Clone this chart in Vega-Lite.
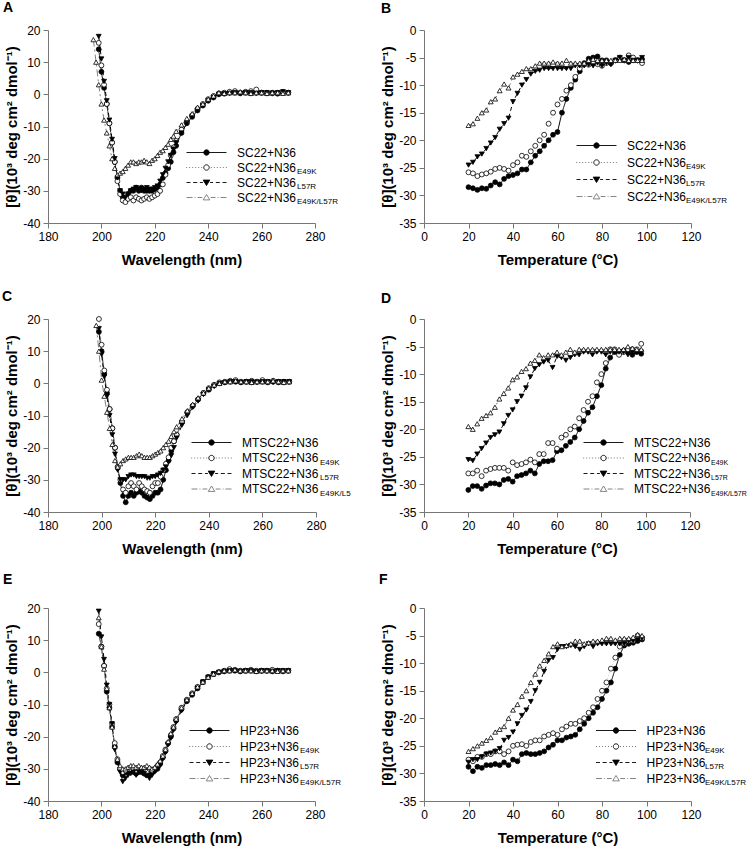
{
"$schema":"https://vega.github.io/schema/vega-lite/v6.json",
"padding":{"left":2,"top":1,"right":5,"bottom":5},
"background":"white",
"config":{"font":"Liberation Sans","view":{"stroke":null},
"axis":{"grid":false,"domainColor":"#777","tickColor":"#777","tickSize":5,"labelFontSize":12,"labelColor":"#000","labelPadding":3,"labelFlush":false,"labelOverlap":false,"labelSeparation":0,"titleFontSize":15,"titleFontWeight":"bold","titleColor":"#000","labelExpr":"''+datum.value"},
"axisY":{"titlePadding":3,"labelOverlap":false},"axisX":{"titlePadding":10},
"title":{"fontSize":14,"fontWeight":"bold","anchor":"start","frame":"group","baseline":"alphabetic","color":"#000"},
"legend":{"labelColor":"#000"}},
"bounds":"flush",
"columns":2,
"spacing":{"row":96,"column":108},
"resolve":{"scale":{"color":"independent","shape":"independent","fill":"independent","stroke":"independent","strokeDash":"independent"},"legend":{"color":"independent","shape":"independent","fill":"independent","stroke":"independent","strokeDash":"independent"}},
"datasets":{
"leg":[{"k":"a"},{"k":"b"},{"k":"c"},{"k":"d"}],
"subs":[{"sub":" "},{"sub":"E49K"},{"sub":"L57R"},{"sub":"E49K/L57R"}],
"subsC":[{"sub":" "},{"sub":"E49K"},{"sub":"L57R"},{"sub":"E49K/L5"}],
"A":[
{"s":"a","x":199,"y":14},{"s":"a","x":200,"y":7},{"s":"a","x":201,"y":2},{"s":"a","x":202,"y":-3},{"s":"a","x":203,"y":-9},{"s":"a","x":204,"y":-15},{"s":"a","x":205,"y":-21},{"s":"a","x":206,"y":-26},{"s":"a","x":207,"y":-30},{"s":"a","x":208,"y":-32},{"s":"a","x":209,"y":-33},{"s":"a","x":210,"y":-31},{"s":"a","x":211,"y":-30},{"s":"a","x":212,"y":-30},{"s":"a","x":213,"y":-29},{"s":"a","x":214,"y":-30},{"s":"a","x":215,"y":-29},{"s":"a","x":216,"y":-30},{"s":"a","x":217,"y":-30},{"s":"a","x":218,"y":-30},{"s":"a","x":219,"y":-30},{"s":"a","x":220,"y":-29.5},{"s":"a","x":221,"y":-29},{"s":"a","x":222,"y":-28},{"s":"a","x":223,"y":-26},{"s":"a","x":224,"y":-24.5},{"s":"a","x":225,"y":-23},{"s":"a","x":226,"y":-21},{"s":"a","x":227,"y":-18},{"s":"a","x":228,"y":-16},{"s":"a","x":230,"y":-12},{"s":"a","x":232,"y":-9},{"s":"a","x":234,"y":-7},{"s":"a","x":236,"y":-5},{"s":"a","x":238,"y":-3.5},{"s":"a","x":240,"y":-2},{"s":"a","x":242,"y":-1},{"s":"a","x":244,"y":0},{"s":"a","x":246,"y":0.2},{"s":"a","x":248,"y":0.5},{"s":"a","x":250,"y":0.5},{"s":"a","x":252,"y":0.3},{"s":"a","x":254,"y":0.5},{"s":"a","x":256,"y":0.3},{"s":"a","x":258,"y":0.5},{"s":"a","x":260,"y":0.5},{"s":"a","x":262,"y":0.3},{"s":"a","x":264,"y":0.5},{"s":"a","x":266,"y":0.2},{"s":"a","x":268,"y":0.5},{"s":"a","x":270,"y":0.5},
{"s":"b","x":199,"y":16},{"s":"b","x":200,"y":9},{"s":"b","x":201,"y":3},{"s":"b","x":202,"y":-3},{"s":"b","x":203,"y":-9},{"s":"b","x":204,"y":-15},{"s":"b","x":205,"y":-21},{"s":"b","x":206,"y":-27},{"s":"b","x":207,"y":-31},{"s":"b","x":208,"y":-33},{"s":"b","x":209,"y":-33.5},{"s":"b","x":210,"y":-32.5},{"s":"b","x":211,"y":-32},{"s":"b","x":212,"y":-33},{"s":"b","x":213,"y":-32},{"s":"b","x":214,"y":-32.5},{"s":"b","x":215,"y":-33},{"s":"b","x":216,"y":-32.5},{"s":"b","x":217,"y":-32},{"s":"b","x":218,"y":-32.5},{"s":"b","x":219,"y":-32},{"s":"b","x":220,"y":-31.5},{"s":"b","x":221,"y":-31},{"s":"b","x":222,"y":-30},{"s":"b","x":223,"y":-28},{"s":"b","x":224,"y":-25},{"s":"b","x":225,"y":-22},{"s":"b","x":226,"y":-19},{"s":"b","x":227,"y":-16.5},{"s":"b","x":228,"y":-14.5},{"s":"b","x":230,"y":-11},{"s":"b","x":232,"y":-8.5},{"s":"b","x":234,"y":-6.5},{"s":"b","x":236,"y":-4.5},{"s":"b","x":238,"y":-3},{"s":"b","x":240,"y":-1.5},{"s":"b","x":242,"y":-0.5},{"s":"b","x":244,"y":0.3},{"s":"b","x":246,"y":0.5},{"s":"b","x":248,"y":0.8},{"s":"b","x":250,"y":1},{"s":"b","x":252,"y":0.5},{"s":"b","x":254,"y":0.8},{"s":"b","x":256,"y":1},{"s":"b","x":258,"y":1.5},{"s":"b","x":260,"y":0.5},{"s":"b","x":262,"y":0.5},{"s":"b","x":264,"y":0.3},{"s":"b","x":266,"y":0.5},{"s":"b","x":268,"y":0.8},{"s":"b","x":270,"y":0.5},
{"s":"c","x":199,"y":18},{"s":"c","x":200,"y":11},{"s":"c","x":201,"y":4},{"s":"c","x":202,"y":-2},{"s":"c","x":203,"y":-8},{"s":"c","x":204,"y":-14},{"s":"c","x":205,"y":-20},{"s":"c","x":206,"y":-26},{"s":"c","x":207,"y":-30},{"s":"c","x":208,"y":-31},{"s":"c","x":209,"y":-32},{"s":"c","x":210,"y":-31},{"s":"c","x":211,"y":-30},{"s":"c","x":212,"y":-29.5},{"s":"c","x":213,"y":-29},{"s":"c","x":214,"y":-29.5},{"s":"c","x":215,"y":-30},{"s":"c","x":216,"y":-29.5},{"s":"c","x":217,"y":-29},{"s":"c","x":218,"y":-29.5},{"s":"c","x":219,"y":-29.5},{"s":"c","x":220,"y":-29},{"s":"c","x":221,"y":-28.5},{"s":"c","x":222,"y":-27},{"s":"c","x":223,"y":-25},{"s":"c","x":224,"y":-23},{"s":"c","x":225,"y":-21},{"s":"c","x":226,"y":-19},{"s":"c","x":227,"y":-17},{"s":"c","x":228,"y":-15},{"s":"c","x":230,"y":-12},{"s":"c","x":232,"y":-9},{"s":"c","x":234,"y":-7},{"s":"c","x":236,"y":-5},{"s":"c","x":238,"y":-3.5},{"s":"c","x":240,"y":-2},{"s":"c","x":242,"y":-1},{"s":"c","x":244,"y":0},{"s":"c","x":246,"y":0.2},{"s":"c","x":248,"y":0.3},{"s":"c","x":250,"y":0.5},{"s":"c","x":252,"y":0.3},{"s":"c","x":254,"y":0.5},{"s":"c","x":256,"y":0.5},{"s":"c","x":258,"y":0.3},{"s":"c","x":260,"y":0.5},{"s":"c","x":262,"y":0.5},{"s":"c","x":264,"y":0.3},{"s":"c","x":266,"y":0.5},{"s":"c","x":268,"y":0.8},{"s":"c","x":270,"y":0.5},
{"s":"d","x":197,"y":17},{"s":"d","x":198,"y":10},{"s":"d","x":199,"y":3},{"s":"d","x":200,"y":-3},{"s":"d","x":201,"y":-8},{"s":"d","x":202,"y":-12},{"s":"d","x":203,"y":-16},{"s":"d","x":204,"y":-20},{"s":"d","x":205,"y":-23},{"s":"d","x":206,"y":-25},{"s":"d","x":207,"y":-24.5},{"s":"d","x":208,"y":-24},{"s":"d","x":209,"y":-23},{"s":"d","x":210,"y":-22},{"s":"d","x":211,"y":-21},{"s":"d","x":212,"y":-21},{"s":"d","x":213,"y":-21.5},{"s":"d","x":214,"y":-21},{"s":"d","x":215,"y":-21},{"s":"d","x":216,"y":-20.5},{"s":"d","x":217,"y":-21},{"s":"d","x":218,"y":-21.5},{"s":"d","x":219,"y":-20.5},{"s":"d","x":220,"y":-20},{"s":"d","x":221,"y":-19},{"s":"d","x":222,"y":-18},{"s":"d","x":223,"y":-17.5},{"s":"d","x":224,"y":-16.5},{"s":"d","x":225,"y":-15.5},{"s":"d","x":226,"y":-14},{"s":"d","x":227,"y":-13},{"s":"d","x":228,"y":-11.5},{"s":"d","x":230,"y":-9.5},{"s":"d","x":232,"y":-7.5},{"s":"d","x":234,"y":-6},{"s":"d","x":236,"y":-4},{"s":"d","x":238,"y":-3},{"s":"d","x":240,"y":-1.5},{"s":"d","x":242,"y":-0.5},{"s":"d","x":244,"y":0.5},{"s":"d","x":246,"y":0.3},{"s":"d","x":248,"y":0.5},{"s":"d","x":250,"y":0.5},{"s":"d","x":252,"y":0.8},{"s":"d","x":254,"y":0.5},{"s":"d","x":256,"y":0.3},{"s":"d","x":258,"y":0.5},{"s":"d","x":260,"y":0.5},{"s":"d","x":262,"y":0.3},{"s":"d","x":264,"y":0.5},{"s":"d","x":266,"y":0.5},{"s":"d","x":268,"y":0.3},{"s":"d","x":270,"y":0.5}
],
"B":[
{"s":"a","x":20,"y":-28.5},{"s":"a","x":22,"y":-28.7},{"s":"a","x":24,"y":-29},{"s":"a","x":26,"y":-28.7},{"s":"a","x":28,"y":-28.8},{"s":"a","x":30,"y":-28.2},{"s":"a","x":32,"y":-27.6},{"s":"a","x":34,"y":-28},{"s":"a","x":36,"y":-27},{"s":"a","x":38,"y":-26.5},{"s":"a","x":40,"y":-26.3},{"s":"a","x":42,"y":-26},{"s":"a","x":44,"y":-25.3},{"s":"a","x":46,"y":-25.3},{"s":"a","x":48,"y":-24},{"s":"a","x":50,"y":-22.8},{"s":"a","x":52,"y":-22},{"s":"a","x":54,"y":-21},{"s":"a","x":56,"y":-20},{"s":"a","x":58,"y":-19},{"s":"a","x":60,"y":-18.5},{"s":"a","x":62,"y":-15},{"s":"a","x":64,"y":-12.5},{"s":"a","x":66,"y":-10.5},{"s":"a","x":68,"y":-9},{"s":"a","x":70,"y":-7.5},{"s":"a","x":72,"y":-6},{"s":"a","x":74,"y":-5.2},{"s":"a","x":76,"y":-5},{"s":"a","x":78,"y":-4.8},{"s":"a","x":80,"y":-5.5},{"s":"a","x":82,"y":-5.5},{"s":"a","x":84,"y":-6},{"s":"a","x":86,"y":-5.5},{"s":"a","x":88,"y":-5.3},{"s":"a","x":90,"y":-5.5},{"s":"a","x":92,"y":-5.8},{"s":"a","x":94,"y":-5.5},{"s":"a","x":96,"y":-5.5},{"s":"a","x":98,"y":-5.3},
{"s":"b","x":20,"y":-25.8},{"s":"b","x":22,"y":-26},{"s":"b","x":24,"y":-26.5},{"s":"b","x":26,"y":-26.2},{"s":"b","x":28,"y":-26},{"s":"b","x":30,"y":-25.7},{"s":"b","x":32,"y":-25.2},{"s":"b","x":34,"y":-25},{"s":"b","x":36,"y":-25.2},{"s":"b","x":38,"y":-25.5},{"s":"b","x":40,"y":-24.5},{"s":"b","x":42,"y":-24},{"s":"b","x":44,"y":-22.8},{"s":"b","x":46,"y":-23},{"s":"b","x":48,"y":-22},{"s":"b","x":50,"y":-21},{"s":"b","x":52,"y":-20},{"s":"b","x":54,"y":-19},{"s":"b","x":56,"y":-17},{"s":"b","x":58,"y":-15},{"s":"b","x":60,"y":-13.5},{"s":"b","x":62,"y":-12.5},{"s":"b","x":64,"y":-11},{"s":"b","x":66,"y":-10},{"s":"b","x":68,"y":-8.5},{"s":"b","x":70,"y":-7},{"s":"b","x":72,"y":-6.2},{"s":"b","x":74,"y":-6.3},{"s":"b","x":76,"y":-6},{"s":"b","x":78,"y":-6.2},{"s":"b","x":80,"y":-6.5},{"s":"b","x":82,"y":-6},{"s":"b","x":84,"y":-6},{"s":"b","x":86,"y":-5.5},{"s":"b","x":88,"y":-5},{"s":"b","x":90,"y":-5.5},{"s":"b","x":92,"y":-4.6},{"s":"b","x":94,"y":-5},{"s":"b","x":96,"y":-5.5},{"s":"b","x":98,"y":-6},
{"s":"c","x":20,"y":-24.5},{"s":"c","x":22,"y":-24},{"s":"c","x":24,"y":-23},{"s":"c","x":26,"y":-22.5},{"s":"c","x":28,"y":-21.5},{"s":"c","x":30,"y":-20.5},{"s":"c","x":32,"y":-19.5},{"s":"c","x":34,"y":-18},{"s":"c","x":36,"y":-17},{"s":"c","x":38,"y":-16},{"s":"c","x":40,"y":-13},{"s":"c","x":42,"y":-11.5},{"s":"c","x":44,"y":-10},{"s":"c","x":46,"y":-9},{"s":"c","x":48,"y":-8},{"s":"c","x":50,"y":-7.5},{"s":"c","x":52,"y":-7.3},{"s":"c","x":54,"y":-7},{"s":"c","x":56,"y":-7},{"s":"c","x":58,"y":-7},{"s":"c","x":60,"y":-7},{"s":"c","x":62,"y":-7},{"s":"c","x":64,"y":-7},{"s":"c","x":66,"y":-7},{"s":"c","x":68,"y":-6.5},{"s":"c","x":70,"y":-6.5},{"s":"c","x":72,"y":-6.5},{"s":"c","x":74,"y":-6.3},{"s":"c","x":76,"y":-6.5},{"s":"c","x":78,"y":-6},{"s":"c","x":80,"y":-6.5},{"s":"c","x":82,"y":-6},{"s":"c","x":84,"y":-6.3},{"s":"c","x":86,"y":-5.5},{"s":"c","x":88,"y":-5},{"s":"c","x":90,"y":-5.5},{"s":"c","x":92,"y":-5},{"s":"c","x":94,"y":-5.5},{"s":"c","x":96,"y":-5.5},{"s":"c","x":98,"y":-5},
{"s":"d","x":20,"y":-17.3},{"s":"d","x":22,"y":-17},{"s":"d","x":24,"y":-16},{"s":"d","x":26,"y":-15},{"s":"d","x":28,"y":-14.5},{"s":"d","x":30,"y":-13},{"s":"d","x":32,"y":-12.5},{"s":"d","x":34,"y":-11},{"s":"d","x":36,"y":-9.8},{"s":"d","x":38,"y":-10.5},{"s":"d","x":40,"y":-8.5},{"s":"d","x":42,"y":-8},{"s":"d","x":44,"y":-7.5},{"s":"d","x":46,"y":-7},{"s":"d","x":48,"y":-7},{"s":"d","x":50,"y":-6.5},{"s":"d","x":52,"y":-6},{"s":"d","x":54,"y":-6},{"s":"d","x":56,"y":-6},{"s":"d","x":58,"y":-5.8},{"s":"d","x":60,"y":-6},{"s":"d","x":62,"y":-6},{"s":"d","x":64,"y":-5.5},{"s":"d","x":66,"y":-6},{"s":"d","x":68,"y":-6},{"s":"d","x":70,"y":-6},{"s":"d","x":72,"y":-6},{"s":"d","x":74,"y":-5.5},{"s":"d","x":76,"y":-5.3},{"s":"d","x":78,"y":-5.5},{"s":"d","x":80,"y":-5.5},{"s":"d","x":82,"y":-5.5},{"s":"d","x":84,"y":-5.5},{"s":"d","x":86,"y":-5.5},{"s":"d","x":88,"y":-5.5},{"s":"d","x":90,"y":-5.3},{"s":"d","x":92,"y":-5.5},{"s":"d","x":94,"y":-5.5},{"s":"d","x":96,"y":-5.5},{"s":"d","x":98,"y":-5.5}
],
"C":[
{"s":"a","x":199,"y":16},{"s":"a","x":200,"y":10},{"s":"a","x":201,"y":3},{"s":"a","x":202,"y":-3},{"s":"a","x":203,"y":-8},{"s":"a","x":204,"y":-14},{"s":"a","x":205,"y":-20},{"s":"a","x":206,"y":-26},{"s":"a","x":207,"y":-31},{"s":"a","x":208,"y":-35},{"s":"a","x":209,"y":-37},{"s":"a","x":210,"y":-35},{"s":"a","x":211,"y":-34},{"s":"a","x":212,"y":-35},{"s":"a","x":213,"y":-34},{"s":"a","x":214,"y":-33.5},{"s":"a","x":215,"y":-34},{"s":"a","x":216,"y":-35},{"s":"a","x":217,"y":-35.5},{"s":"a","x":218,"y":-36},{"s":"a","x":219,"y":-35},{"s":"a","x":220,"y":-34},{"s":"a","x":221,"y":-34},{"s":"a","x":222,"y":-33},{"s":"a","x":223,"y":-30},{"s":"a","x":224,"y":-27},{"s":"a","x":225,"y":-24},{"s":"a","x":226,"y":-21},{"s":"a","x":227,"y":-18},{"s":"a","x":228,"y":-16},{"s":"a","x":230,"y":-12},{"s":"a","x":232,"y":-9},{"s":"a","x":234,"y":-7},{"s":"a","x":236,"y":-5},{"s":"a","x":238,"y":-3},{"s":"a","x":240,"y":-2},{"s":"a","x":242,"y":-0.5},{"s":"a","x":244,"y":0},{"s":"a","x":246,"y":0.3},{"s":"a","x":248,"y":0.5},{"s":"a","x":250,"y":0.5},{"s":"a","x":252,"y":0.3},{"s":"a","x":254,"y":0.5},{"s":"a","x":256,"y":0.3},{"s":"a","x":258,"y":0.5},{"s":"a","x":260,"y":0.5},{"s":"a","x":262,"y":0.3},{"s":"a","x":264,"y":0.5},{"s":"a","x":266,"y":0.3},{"s":"a","x":268,"y":0.5},{"s":"a","x":270,"y":0.5},
{"s":"b","x":199,"y":20},{"s":"b","x":200,"y":12},{"s":"b","x":201,"y":4},{"s":"b","x":202,"y":-2},{"s":"b","x":203,"y":-8},{"s":"b","x":204,"y":-14},{"s":"b","x":205,"y":-20},{"s":"b","x":206,"y":-26},{"s":"b","x":207,"y":-30},{"s":"b","x":208,"y":-33},{"s":"b","x":209,"y":-34},{"s":"b","x":210,"y":-32},{"s":"b","x":211,"y":-31},{"s":"b","x":212,"y":-32},{"s":"b","x":213,"y":-33},{"s":"b","x":214,"y":-31},{"s":"b","x":215,"y":-32},{"s":"b","x":216,"y":-33},{"s":"b","x":217,"y":-33.5},{"s":"b","x":218,"y":-34},{"s":"b","x":219,"y":-32},{"s":"b","x":220,"y":-31},{"s":"b","x":221,"y":-31},{"s":"b","x":222,"y":-29},{"s":"b","x":223,"y":-27},{"s":"b","x":224,"y":-25},{"s":"b","x":225,"y":-23},{"s":"b","x":226,"y":-20},{"s":"b","x":227,"y":-18},{"s":"b","x":228,"y":-16},{"s":"b","x":230,"y":-12},{"s":"b","x":232,"y":-9},{"s":"b","x":234,"y":-7},{"s":"b","x":236,"y":-5},{"s":"b","x":238,"y":-3},{"s":"b","x":240,"y":-1.5},{"s":"b","x":242,"y":-0.5},{"s":"b","x":244,"y":0.3},{"s":"b","x":246,"y":0.5},{"s":"b","x":248,"y":0.8},{"s":"b","x":250,"y":1},{"s":"b","x":252,"y":0.5},{"s":"b","x":254,"y":0.5},{"s":"b","x":256,"y":0.8},{"s":"b","x":258,"y":0.5},{"s":"b","x":260,"y":1},{"s":"b","x":262,"y":0.5},{"s":"b","x":264,"y":0.8},{"s":"b","x":266,"y":0.5},{"s":"b","x":268,"y":0.3},{"s":"b","x":270,"y":0.5},
{"s":"c","x":199,"y":17},{"s":"c","x":200,"y":9},{"s":"c","x":201,"y":2},{"s":"c","x":202,"y":-4},{"s":"c","x":203,"y":-10},{"s":"c","x":204,"y":-16},{"s":"c","x":205,"y":-22},{"s":"c","x":206,"y":-27},{"s":"c","x":207,"y":-30},{"s":"c","x":208,"y":-30},{"s":"c","x":209,"y":-30},{"s":"c","x":210,"y":-29},{"s":"c","x":211,"y":-28.5},{"s":"c","x":212,"y":-28.5},{"s":"c","x":213,"y":-29},{"s":"c","x":214,"y":-29},{"s":"c","x":215,"y":-29},{"s":"c","x":216,"y":-29},{"s":"c","x":217,"y":-29.5},{"s":"c","x":218,"y":-29.5},{"s":"c","x":219,"y":-29},{"s":"c","x":220,"y":-29},{"s":"c","x":221,"y":-28.5},{"s":"c","x":222,"y":-28},{"s":"c","x":223,"y":-27},{"s":"c","x":224,"y":-26},{"s":"c","x":225,"y":-24.5},{"s":"c","x":226,"y":-22.5},{"s":"c","x":227,"y":-20},{"s":"c","x":228,"y":-17},{"s":"c","x":230,"y":-13},{"s":"c","x":232,"y":-10},{"s":"c","x":234,"y":-7.5},{"s":"c","x":236,"y":-5.5},{"s":"c","x":238,"y":-3.5},{"s":"c","x":240,"y":-2},{"s":"c","x":242,"y":-1},{"s":"c","x":244,"y":0},{"s":"c","x":246,"y":0.2},{"s":"c","x":248,"y":0.5},{"s":"c","x":250,"y":0.5},{"s":"c","x":252,"y":0.3},{"s":"c","x":254,"y":0.5},{"s":"c","x":256,"y":0.5},{"s":"c","x":258,"y":0.3},{"s":"c","x":260,"y":0.5},{"s":"c","x":262,"y":0.5},{"s":"c","x":264,"y":0.3},{"s":"c","x":266,"y":0.5},{"s":"c","x":268,"y":0.5},{"s":"c","x":270,"y":0.5},
{"s":"d","x":198,"y":18},{"s":"d","x":199,"y":10},{"s":"d","x":200,"y":1},{"s":"d","x":201,"y":-4},{"s":"d","x":202,"y":-9},{"s":"d","x":203,"y":-14},{"s":"d","x":204,"y":-19},{"s":"d","x":205,"y":-24},{"s":"d","x":206,"y":-26},{"s":"d","x":207,"y":-25},{"s":"d","x":208,"y":-24},{"s":"d","x":209,"y":-23.5},{"s":"d","x":210,"y":-23},{"s":"d","x":211,"y":-23},{"s":"d","x":212,"y":-23},{"s":"d","x":213,"y":-22.5},{"s":"d","x":214,"y":-22},{"s":"d","x":215,"y":-22.5},{"s":"d","x":216,"y":-23},{"s":"d","x":217,"y":-23},{"s":"d","x":218,"y":-23},{"s":"d","x":219,"y":-22.5},{"s":"d","x":220,"y":-22},{"s":"d","x":221,"y":-21.5},{"s":"d","x":222,"y":-21},{"s":"d","x":223,"y":-20},{"s":"d","x":224,"y":-19},{"s":"d","x":225,"y":-18},{"s":"d","x":226,"y":-16.5},{"s":"d","x":227,"y":-15},{"s":"d","x":228,"y":-13.5},{"s":"d","x":230,"y":-11},{"s":"d","x":232,"y":-8.5},{"s":"d","x":234,"y":-6.5},{"s":"d","x":236,"y":-4.5},{"s":"d","x":238,"y":-3},{"s":"d","x":240,"y":-1.5},{"s":"d","x":242,"y":-0.5},{"s":"d","x":244,"y":0},{"s":"d","x":246,"y":0.5},{"s":"d","x":248,"y":0.5},{"s":"d","x":250,"y":0.8},{"s":"d","x":252,"y":0.5},{"s":"d","x":254,"y":0.5},{"s":"d","x":256,"y":0.3},{"s":"d","x":258,"y":0.5},{"s":"d","x":260,"y":0.5},{"s":"d","x":262,"y":0.5},{"s":"d","x":264,"y":0.8},{"s":"d","x":266,"y":0.5},{"s":"d","x":268,"y":0.3},{"s":"d","x":270,"y":0.5}
],
"D":[
{"s":"a","x":20,"y":-31},{"s":"a","x":22,"y":-30.3},{"s":"a","x":24,"y":-30.3},{"s":"a","x":26,"y":-30.8},{"s":"a","x":28,"y":-30.2},{"s":"a","x":30,"y":-29.8},{"s":"a","x":32,"y":-29.8},{"s":"a","x":34,"y":-30},{"s":"a","x":36,"y":-29.2},{"s":"a","x":38,"y":-29},{"s":"a","x":40,"y":-29.5},{"s":"a","x":42,"y":-28.5},{"s":"a","x":44,"y":-28.3},{"s":"a","x":46,"y":-28},{"s":"a","x":48,"y":-27.5},{"s":"a","x":50,"y":-28},{"s":"a","x":52,"y":-26.3},{"s":"a","x":54,"y":-25.8},{"s":"a","x":56,"y":-25.8},{"s":"a","x":58,"y":-25.6},{"s":"a","x":60,"y":-24},{"s":"a","x":62,"y":-23.8},{"s":"a","x":64,"y":-23},{"s":"a","x":66,"y":-22.3},{"s":"a","x":68,"y":-21.5},{"s":"a","x":70,"y":-20},{"s":"a","x":72,"y":-18.5},{"s":"a","x":74,"y":-17},{"s":"a","x":76,"y":-16},{"s":"a","x":78,"y":-14},{"s":"a","x":80,"y":-12},{"s":"a","x":82,"y":-9},{"s":"a","x":84,"y":-7},{"s":"a","x":86,"y":-6},{"s":"a","x":88,"y":-6.2},{"s":"a","x":90,"y":-5.8},{"s":"a","x":92,"y":-6},{"s":"a","x":94,"y":-6.5},{"s":"a","x":96,"y":-6},{"s":"a","x":98,"y":-6.3},
{"s":"b","x":20,"y":-28},{"s":"b","x":22,"y":-28},{"s":"b","x":24,"y":-27.5},{"s":"b","x":26,"y":-28.5},{"s":"b","x":28,"y":-27.5},{"s":"b","x":30,"y":-27.2},{"s":"b","x":32,"y":-27},{"s":"b","x":34,"y":-27},{"s":"b","x":36,"y":-27},{"s":"b","x":38,"y":-27.5},{"s":"b","x":40,"y":-26},{"s":"b","x":42,"y":-26.5},{"s":"b","x":44,"y":-26.3},{"s":"b","x":46,"y":-26},{"s":"b","x":48,"y":-25.5},{"s":"b","x":50,"y":-26},{"s":"b","x":52,"y":-24.5},{"s":"b","x":54,"y":-24.5},{"s":"b","x":56,"y":-22.5},{"s":"b","x":58,"y":-22.5},{"s":"b","x":60,"y":-23.5},{"s":"b","x":62,"y":-21.5},{"s":"b","x":64,"y":-21},{"s":"b","x":66,"y":-20},{"s":"b","x":68,"y":-19.5},{"s":"b","x":70,"y":-18},{"s":"b","x":72,"y":-16.5},{"s":"b","x":74,"y":-15},{"s":"b","x":76,"y":-14},{"s":"b","x":78,"y":-11.5},{"s":"b","x":80,"y":-10},{"s":"b","x":82,"y":-8},{"s":"b","x":84,"y":-5.5},{"s":"b","x":86,"y":-5.5},{"s":"b","x":88,"y":-6.5},{"s":"b","x":90,"y":-6},{"s":"b","x":92,"y":-5.5},{"s":"b","x":94,"y":-5.5},{"s":"b","x":96,"y":-5.5},{"s":"b","x":98,"y":-4.5},
{"s":"c","x":20,"y":-25.5},{"s":"c","x":22,"y":-25.7},{"s":"c","x":24,"y":-24.5},{"s":"c","x":26,"y":-23.5},{"s":"c","x":28,"y":-22.5},{"s":"c","x":30,"y":-21.5},{"s":"c","x":32,"y":-21},{"s":"c","x":34,"y":-20.5},{"s":"c","x":36,"y":-19},{"s":"c","x":38,"y":-17.5},{"s":"c","x":40,"y":-16.5},{"s":"c","x":42,"y":-15},{"s":"c","x":44,"y":-14},{"s":"c","x":46,"y":-12.5},{"s":"c","x":48,"y":-10.5},{"s":"c","x":50,"y":-9},{"s":"c","x":52,"y":-8.3},{"s":"c","x":54,"y":-7.8},{"s":"c","x":56,"y":-7.5},{"s":"c","x":58,"y":-8.8},{"s":"c","x":60,"y":-6.8},{"s":"c","x":62,"y":-7},{"s":"c","x":64,"y":-7.5},{"s":"c","x":66,"y":-7},{"s":"c","x":68,"y":-6.5},{"s":"c","x":70,"y":-6.5},{"s":"c","x":72,"y":-6},{"s":"c","x":74,"y":-6},{"s":"c","x":76,"y":-6.5},{"s":"c","x":78,"y":-6},{"s":"c","x":80,"y":-6},{"s":"c","x":82,"y":-6.5},{"s":"c","x":84,"y":-6},{"s":"c","x":86,"y":-6},{"s":"c","x":88,"y":-6},{"s":"c","x":90,"y":-6},{"s":"c","x":92,"y":-6.5},{"s":"c","x":94,"y":-6},{"s":"c","x":96,"y":-6},{"s":"c","x":98,"y":-6},
{"s":"d","x":20,"y":-19.5},{"s":"d","x":22,"y":-20},{"s":"d","x":24,"y":-19},{"s":"d","x":26,"y":-18},{"s":"d","x":28,"y":-17.5},{"s":"d","x":30,"y":-17},{"s":"d","x":32,"y":-16},{"s":"d","x":34,"y":-14.5},{"s":"d","x":36,"y":-13.5},{"s":"d","x":38,"y":-12.5},{"s":"d","x":40,"y":-11},{"s":"d","x":42,"y":-10.5},{"s":"d","x":44,"y":-9.5},{"s":"d","x":46,"y":-9},{"s":"d","x":48,"y":-8},{"s":"d","x":50,"y":-7.5},{"s":"d","x":52,"y":-6.5},{"s":"d","x":54,"y":-7},{"s":"d","x":56,"y":-6.5},{"s":"d","x":58,"y":-6.5},{"s":"d","x":60,"y":-6},{"s":"d","x":62,"y":-6.5},{"s":"d","x":64,"y":-6},{"s":"d","x":66,"y":-5.5},{"s":"d","x":68,"y":-6},{"s":"d","x":70,"y":-5.5},{"s":"d","x":72,"y":-5.5},{"s":"d","x":74,"y":-5.5},{"s":"d","x":76,"y":-5.5},{"s":"d","x":78,"y":-5.5},{"s":"d","x":80,"y":-5.5},{"s":"d","x":82,"y":-5.5},{"s":"d","x":84,"y":-5.5},{"s":"d","x":86,"y":-5.5},{"s":"d","x":88,"y":-5.5},{"s":"d","x":90,"y":-5.5},{"s":"d","x":92,"y":-5},{"s":"d","x":94,"y":-5.3},{"s":"d","x":96,"y":-5.5},{"s":"d","x":98,"y":-5.5}
],
"E":[
{"s":"a","x":199,"y":12},{"s":"a","x":200,"y":8},{"s":"a","x":201,"y":2},{"s":"a","x":202,"y":-6},{"s":"a","x":203,"y":-11},{"s":"a","x":204,"y":-17},{"s":"a","x":205,"y":-23},{"s":"a","x":206,"y":-28},{"s":"a","x":207,"y":-30},{"s":"a","x":208,"y":-32},{"s":"a","x":209,"y":-31},{"s":"a","x":210,"y":-31},{"s":"a","x":211,"y":-30.5},{"s":"a","x":212,"y":-31},{"s":"a","x":213,"y":-31.5},{"s":"a","x":214,"y":-31},{"s":"a","x":215,"y":-31},{"s":"a","x":216,"y":-31.5},{"s":"a","x":217,"y":-32},{"s":"a","x":218,"y":-32},{"s":"a","x":219,"y":-31},{"s":"a","x":220,"y":-30.5},{"s":"a","x":221,"y":-30},{"s":"a","x":222,"y":-28.5},{"s":"a","x":223,"y":-26.5},{"s":"a","x":224,"y":-24.5},{"s":"a","x":225,"y":-22},{"s":"a","x":226,"y":-20},{"s":"a","x":227,"y":-17.5},{"s":"a","x":228,"y":-15},{"s":"a","x":230,"y":-11.5},{"s":"a","x":232,"y":-9},{"s":"a","x":234,"y":-7},{"s":"a","x":236,"y":-5},{"s":"a","x":238,"y":-3},{"s":"a","x":240,"y":-1.5},{"s":"a","x":242,"y":-0.5},{"s":"a","x":244,"y":0},{"s":"a","x":246,"y":0.3},{"s":"a","x":248,"y":0.5},{"s":"a","x":250,"y":0.5},{"s":"a","x":252,"y":0.3},{"s":"a","x":254,"y":0.5},{"s":"a","x":256,"y":0.5},{"s":"a","x":258,"y":0.3},{"s":"a","x":260,"y":0.5},{"s":"a","x":262,"y":0.5},{"s":"a","x":264,"y":0.3},{"s":"a","x":266,"y":0.5},{"s":"a","x":268,"y":0.3},{"s":"a","x":270,"y":0.5},
{"s":"b","x":199,"y":15},{"s":"b","x":200,"y":8},{"s":"b","x":201,"y":2},{"s":"b","x":202,"y":-5},{"s":"b","x":203,"y":-10},{"s":"b","x":204,"y":-16},{"s":"b","x":205,"y":-22},{"s":"b","x":206,"y":-27},{"s":"b","x":207,"y":-30},{"s":"b","x":208,"y":-31},{"s":"b","x":209,"y":-30.5},{"s":"b","x":210,"y":-30},{"s":"b","x":211,"y":-30},{"s":"b","x":212,"y":-30},{"s":"b","x":213,"y":-30.5},{"s":"b","x":214,"y":-30},{"s":"b","x":215,"y":-30},{"s":"b","x":216,"y":-30},{"s":"b","x":217,"y":-31},{"s":"b","x":218,"y":-30},{"s":"b","x":219,"y":-30.5},{"s":"b","x":220,"y":-30},{"s":"b","x":221,"y":-29},{"s":"b","x":222,"y":-28},{"s":"b","x":223,"y":-26},{"s":"b","x":224,"y":-24},{"s":"b","x":225,"y":-22},{"s":"b","x":226,"y":-19.5},{"s":"b","x":227,"y":-17},{"s":"b","x":228,"y":-14.5},{"s":"b","x":230,"y":-11},{"s":"b","x":232,"y":-8.5},{"s":"b","x":234,"y":-6.5},{"s":"b","x":236,"y":-4.5},{"s":"b","x":238,"y":-3},{"s":"b","x":240,"y":-1.5},{"s":"b","x":242,"y":-0.5},{"s":"b","x":244,"y":0},{"s":"b","x":246,"y":0.5},{"s":"b","x":248,"y":1},{"s":"b","x":250,"y":0.8},{"s":"b","x":252,"y":0.5},{"s":"b","x":254,"y":0.5},{"s":"b","x":256,"y":0.8},{"s":"b","x":258,"y":0.5},{"s":"b","x":260,"y":0.5},{"s":"b","x":262,"y":0.5},{"s":"b","x":264,"y":0.8},{"s":"b","x":266,"y":0.5},{"s":"b","x":268,"y":0.5},{"s":"b","x":270,"y":0.5},
{"s":"c","x":199,"y":19},{"s":"c","x":200,"y":11},{"s":"c","x":201,"y":4},{"s":"c","x":202,"y":-4},{"s":"c","x":203,"y":-10},{"s":"c","x":204,"y":-16},{"s":"c","x":205,"y":-24},{"s":"c","x":206,"y":-28},{"s":"c","x":207,"y":-31},{"s":"c","x":208,"y":-34},{"s":"c","x":209,"y":-33},{"s":"c","x":210,"y":-32},{"s":"c","x":211,"y":-31.5},{"s":"c","x":212,"y":-31},{"s":"c","x":213,"y":-32},{"s":"c","x":214,"y":-31},{"s":"c","x":215,"y":-31},{"s":"c","x":216,"y":-31.5},{"s":"c","x":217,"y":-32},{"s":"c","x":218,"y":-33},{"s":"c","x":219,"y":-32},{"s":"c","x":220,"y":-31},{"s":"c","x":221,"y":-30},{"s":"c","x":222,"y":-29},{"s":"c","x":223,"y":-27},{"s":"c","x":224,"y":-25},{"s":"c","x":225,"y":-22.5},{"s":"c","x":226,"y":-20.5},{"s":"c","x":227,"y":-18},{"s":"c","x":228,"y":-15.5},{"s":"c","x":230,"y":-12},{"s":"c","x":232,"y":-9},{"s":"c","x":234,"y":-7},{"s":"c","x":236,"y":-5},{"s":"c","x":238,"y":-3},{"s":"c","x":240,"y":-1.5},{"s":"c","x":242,"y":-0.5},{"s":"c","x":244,"y":0},{"s":"c","x":246,"y":0.3},{"s":"c","x":248,"y":0.5},{"s":"c","x":250,"y":0.5},{"s":"c","x":252,"y":0.3},{"s":"c","x":254,"y":0.5},{"s":"c","x":256,"y":0.5},{"s":"c","x":258,"y":0.3},{"s":"c","x":260,"y":0.5},{"s":"c","x":262,"y":0.5},{"s":"c","x":264,"y":0.3},{"s":"c","x":266,"y":0.5},{"s":"c","x":268,"y":0.5},{"s":"c","x":270,"y":0.5},
{"s":"d","x":199,"y":17},{"s":"d","x":200,"y":8},{"s":"d","x":201,"y":1},{"s":"d","x":202,"y":-5},{"s":"d","x":203,"y":-11},{"s":"d","x":204,"y":-17},{"s":"d","x":205,"y":-23},{"s":"d","x":206,"y":-27},{"s":"d","x":207,"y":-29},{"s":"d","x":208,"y":-30},{"s":"d","x":209,"y":-30},{"s":"d","x":210,"y":-29.5},{"s":"d","x":211,"y":-29},{"s":"d","x":212,"y":-29},{"s":"d","x":213,"y":-29.5},{"s":"d","x":214,"y":-29},{"s":"d","x":215,"y":-29.5},{"s":"d","x":216,"y":-29.5},{"s":"d","x":217,"y":-29},{"s":"d","x":218,"y":-29.5},{"s":"d","x":219,"y":-30},{"s":"d","x":220,"y":-29.5},{"s":"d","x":221,"y":-28.5},{"s":"d","x":222,"y":-27.5},{"s":"d","x":223,"y":-26},{"s":"d","x":224,"y":-24},{"s":"d","x":225,"y":-21.5},{"s":"d","x":226,"y":-19},{"s":"d","x":227,"y":-17},{"s":"d","x":228,"y":-14.5},{"s":"d","x":230,"y":-11},{"s":"d","x":232,"y":-8.5},{"s":"d","x":234,"y":-6.5},{"s":"d","x":236,"y":-4.5},{"s":"d","x":238,"y":-3},{"s":"d","x":240,"y":-1.5},{"s":"d","x":242,"y":-0.5},{"s":"d","x":244,"y":0.3},{"s":"d","x":246,"y":0.5},{"s":"d","x":248,"y":0.5},{"s":"d","x":250,"y":0.8},{"s":"d","x":252,"y":0.5},{"s":"d","x":254,"y":0.5},{"s":"d","x":256,"y":0.5},{"s":"d","x":258,"y":0.3},{"s":"d","x":260,"y":0.5},{"s":"d","x":262,"y":0.5},{"s":"d","x":264,"y":0.5},{"s":"d","x":266,"y":0.3},{"s":"d","x":268,"y":0.5},{"s":"d","x":270,"y":0.5}
],
"F":[
{"s":"a","x":20,"y":-28.8},{"s":"a","x":22,"y":-29.6},{"s":"a","x":24,"y":-28.8},{"s":"a","x":26,"y":-29},{"s":"a","x":28,"y":-28.5},{"s":"a","x":30,"y":-28.5},{"s":"a","x":32,"y":-28.3},{"s":"a","x":34,"y":-28.5},{"s":"a","x":36,"y":-28},{"s":"a","x":38,"y":-28.5},{"s":"a","x":40,"y":-27.5},{"s":"a","x":42,"y":-27.8},{"s":"a","x":44,"y":-26.5},{"s":"a","x":46,"y":-26.3},{"s":"a","x":48,"y":-26.5},{"s":"a","x":50,"y":-26.5},{"s":"a","x":52,"y":-26.3},{"s":"a","x":54,"y":-26},{"s":"a","x":56,"y":-25.3},{"s":"a","x":58,"y":-24.8},{"s":"a","x":60,"y":-24},{"s":"a","x":62,"y":-24},{"s":"a","x":64,"y":-23.5},{"s":"a","x":66,"y":-23.3},{"s":"a","x":68,"y":-23},{"s":"a","x":70,"y":-22},{"s":"a","x":72,"y":-21},{"s":"a","x":74,"y":-20},{"s":"a","x":76,"y":-19},{"s":"a","x":78,"y":-18},{"s":"a","x":80,"y":-16.5},{"s":"a","x":82,"y":-15},{"s":"a","x":84,"y":-13.5},{"s":"a","x":86,"y":-11},{"s":"a","x":88,"y":-8.5},{"s":"a","x":90,"y":-6.8},{"s":"a","x":92,"y":-6.5},{"s":"a","x":94,"y":-6.3},{"s":"a","x":96,"y":-6},{"s":"a","x":98,"y":-5.7},
{"s":"b","x":20,"y":-27.5},{"s":"b","x":22,"y":-27.8},{"s":"b","x":24,"y":-27},{"s":"b","x":26,"y":-27},{"s":"b","x":28,"y":-26.5},{"s":"b","x":30,"y":-26.5},{"s":"b","x":32,"y":-26},{"s":"b","x":34,"y":-26},{"s":"b","x":36,"y":-26.5},{"s":"b","x":38,"y":-26},{"s":"b","x":40,"y":-25},{"s":"b","x":42,"y":-24.8},{"s":"b","x":44,"y":-24.7},{"s":"b","x":46,"y":-25},{"s":"b","x":48,"y":-24.3},{"s":"b","x":50,"y":-24},{"s":"b","x":52,"y":-24},{"s":"b","x":54,"y":-23.3},{"s":"b","x":56,"y":-23},{"s":"b","x":58,"y":-22.7},{"s":"b","x":60,"y":-23},{"s":"b","x":62,"y":-22},{"s":"b","x":64,"y":-21.5},{"s":"b","x":66,"y":-21},{"s":"b","x":68,"y":-21},{"s":"b","x":70,"y":-20.5},{"s":"b","x":72,"y":-20},{"s":"b","x":74,"y":-19},{"s":"b","x":76,"y":-18},{"s":"b","x":78,"y":-16.5},{"s":"b","x":80,"y":-15},{"s":"b","x":82,"y":-13.5},{"s":"b","x":84,"y":-11},{"s":"b","x":86,"y":-9},{"s":"b","x":88,"y":-7},{"s":"b","x":90,"y":-6.5},{"s":"b","x":92,"y":-6},{"s":"b","x":94,"y":-6},{"s":"b","x":96,"y":-5},{"s":"b","x":98,"y":-5.5},
{"s":"c","x":20,"y":-28},{"s":"c","x":22,"y":-27.5},{"s":"c","x":24,"y":-27.5},{"s":"c","x":26,"y":-27},{"s":"c","x":28,"y":-26.5},{"s":"c","x":30,"y":-26.3},{"s":"c","x":32,"y":-26},{"s":"c","x":34,"y":-25.5},{"s":"c","x":36,"y":-24},{"s":"c","x":38,"y":-23.5},{"s":"c","x":40,"y":-22.5},{"s":"c","x":42,"y":-21},{"s":"c","x":44,"y":-19.5},{"s":"c","x":46,"y":-18.5},{"s":"c","x":48,"y":-17},{"s":"c","x":50,"y":-15},{"s":"c","x":52,"y":-13.5},{"s":"c","x":54,"y":-11.5},{"s":"c","x":56,"y":-9.5},{"s":"c","x":58,"y":-9},{"s":"c","x":60,"y":-7.5},{"s":"c","x":62,"y":-7},{"s":"c","x":64,"y":-7},{"s":"c","x":66,"y":-6.8},{"s":"c","x":68,"y":-7},{"s":"c","x":70,"y":-7.5},{"s":"c","x":72,"y":-7},{"s":"c","x":74,"y":-6.5},{"s":"c","x":76,"y":-7},{"s":"c","x":78,"y":-6.5},{"s":"c","x":80,"y":-6.5},{"s":"c","x":82,"y":-6.5},{"s":"c","x":84,"y":-6.5},{"s":"c","x":86,"y":-6.5},{"s":"c","x":88,"y":-6.5},{"s":"c","x":90,"y":-6.5},{"s":"c","x":92,"y":-6},{"s":"c","x":94,"y":-6},{"s":"c","x":96,"y":-5.8},{"s":"c","x":98,"y":-5.5},
{"s":"d","x":20,"y":-26},{"s":"d","x":22,"y":-25.5},{"s":"d","x":24,"y":-25},{"s":"d","x":26,"y":-24.5},{"s":"d","x":28,"y":-24},{"s":"d","x":30,"y":-23.5},{"s":"d","x":32,"y":-22.5},{"s":"d","x":34,"y":-22},{"s":"d","x":36,"y":-21.5},{"s":"d","x":38,"y":-20},{"s":"d","x":40,"y":-18.5},{"s":"d","x":42,"y":-17.5},{"s":"d","x":44,"y":-16},{"s":"d","x":46,"y":-15},{"s":"d","x":48,"y":-13.5},{"s":"d","x":50,"y":-12},{"s":"d","x":52,"y":-10.5},{"s":"d","x":54,"y":-9.5},{"s":"d","x":56,"y":-8.3},{"s":"d","x":58,"y":-7},{"s":"d","x":60,"y":-6.5},{"s":"d","x":62,"y":-7},{"s":"d","x":64,"y":-6.8},{"s":"d","x":66,"y":-6.5},{"s":"d","x":68,"y":-6},{"s":"d","x":70,"y":-6},{"s":"d","x":72,"y":-6.5},{"s":"d","x":74,"y":-6.3},{"s":"d","x":76,"y":-6},{"s":"d","x":78,"y":-6},{"s":"d","x":80,"y":-5.8},{"s":"d","x":82,"y":-5.5},{"s":"d","x":84,"y":-5.5},{"s":"d","x":86,"y":-5.8},{"s":"d","x":88,"y":-5.5},{"s":"d","x":90,"y":-5.5},{"s":"d","x":92,"y":-5.5},{"s":"d","x":94,"y":-5.3},{"s":"d","x":96,"y":-4.8},{"s":"d","x":98,"y":-5}
]
},
"concat":[
{"width":267,"height":193,"title":{"text":"A","dx":-45,"offset":9},
"resolve":{"scale":{"color":"independent","shape":"independent","fill":"independent","stroke":"independent","strokeDash":"independent"}},
"encoding":{
"x":{"field":"x","type":"quantitative","scale":{"domain":[180,280],"nice":false,"zero":false},"axis":{"values":[180,200,220,240,260,280],"title":"Wavelength (nm)","labelOverlap":false}},
"y":{"field":"y","type":"quantitative","scale":{"domain":[-40,20],"nice":false},"axis":{"values":[-40,-30,-20,-10,0,10,20],"title":"[θ](10³ deg cm² dmol⁻¹)","labelOverlap":false}}},
"layer":[
{"data":{"name":"A"},"mark":{"type":"line","strokeWidth":1},"encoding":{
"stroke":{"field":"s","type":"nominal","scale":{"domain":["a","b","c","d"],"range":["#000","#c8c8c8","#000","#808080"]},"legend":null},
"strokeDash":{"field":"s","type":"nominal","scale":{"domain":["a","b","c","d"],"range":[[1,0],[1,2],[4,3],[7,3,2,3]]},"legend":null}}},
{"data":{"name":"A"},"mark":{"type":"point","filled":true,"stroke":"#000","strokeWidth":0.8,"opacity":1,"size":24},"encoding":{
"shape":{"field":"s","type":"nominal","scale":{"domain":["a","b","c","d"],"range":["circle","circle","triangle-down","triangle-up"]},"legend":null},
"fill":{"field":"s","type":"nominal","scale":{"domain":["a","b","c","d"],"range":["#000","#fff","#000","#fff"]},"legend":null}}},
{"data":{"name":"leg"},"mark":{"type":"point","filled":true,"strokeWidth":0.9,"size":144,"opacity":1},"encoding":{
"color":{"field":"k","type":"nominal","scale":{"domain":["a","b","c","d"],"range":["#000","#fff","#000","#fff"]},"legend":{"orient":"none","legendX":152,"legendY":116,"title":null,"symbolSize":144,"symbolStrokeWidth":0.9,"labelFontSize":12,"labelOffset":24,"rowPadding":2,"labelExpr":"'SC22+N36'"}},
"shape":{"field":"k","type":"nominal","scale":{"domain":["a","b","c","d"],"range":["M-3.33,0H3.33M0.45,0A0.45,0.45,0,1,1,-0.45,0A0.45,0.45,0,1,1,0.45,0Z","M-3.33,0H-3.23M-2.83,0H-2.73M-2.33,0H-2.23M-1.83,0H-1.73M-1.33,0H-1.23M-0.83,0H-0.73M0.73,0H0.83M1.23,0H1.33M1.73,0H1.83M2.23,0H2.33M2.73,0H2.83M3.23,0H3.33M0.45,0A0.45,0.45,0,1,1,-0.45,0A0.45,0.45,0,1,1,0.45,0Z","M-3.33,0H-2.67M-2.22,0H-1.55M-1.1,0H-0.6M0.6,0H1.1M1.55,0H2.22M2.67,0H3.33M-0.55,-0.4L0.55,-0.4L0,0.5Z","M-3.33,0H-2.33M-2,0H-1.85M-1.5,0H-0.7M0.7,0H1.5M1.85,0H2M2.33,0H3.33M-0.55,0.4L0.55,0.4L0,-0.5Z"]},"legend":{"orient":"none","legendX":152,"legendY":116,"title":null,"symbolSize":144,"symbolStrokeWidth":0.9,"labelFontSize":12,"labelOffset":24,"rowPadding":2,"labelExpr":"'SC22+N36'"}},
"stroke":{"field":"k","type":"nominal","scale":{"domain":["a","b","c","d"],"range":["#000","#000","#000","#777"]},"legend":{"orient":"none","legendX":152,"legendY":116,"title":null,"symbolSize":144,"symbolStrokeWidth":0.9,"labelFontSize":12,"labelOffset":24,"rowPadding":2,"labelExpr":"'SC22+N36'"}}}},
{"data":{"name":"subs"},"mark":{"type":"point","opacity":0},"encoding":{
"color":{"field":"sub","type":"nominal","scale":{"domain":[" ","E49K","L57R","E49K/L57R"],"range":["#000","#000","#000","#000"]},"legend":{"orient":"none","legendX":235,"legendY":120,"title":null,"symbolSize":144,"symbolOpacity":0,"labelFontSize":8,"labelOffset":0,"rowPadding":2}}}}
]},
{"width":267,"height":193,"title":{"text":"B","dx":-43,"offset":8},
"resolve":{"scale":{"color":"independent","shape":"independent","fill":"independent","stroke":"independent","strokeDash":"independent"}},
"encoding":{
"x":{"field":"x","type":"quantitative","scale":{"domain":[0,120],"nice":false},"axis":{"values":[0,20,40,60,80,100,120],"title":"Temperature (°C)","labelOverlap":false}},
"y":{"field":"y","type":"quantitative","scale":{"domain":[-35,0],"nice":false},"axis":{"values":[-35,-30,-25,-20,-15,-10,-5,0],"title":"[θ](10³ deg cm² dmol⁻¹)","labelOverlap":false}}},
"layer":[
{"data":{"name":"B"},"mark":{"type":"line","strokeWidth":1},"encoding":{
"stroke":{"field":"s","type":"nominal","scale":{"domain":["a","b","c","d"],"range":["#000","#c8c8c8","#000","#808080"]},"legend":null},
"strokeDash":{"field":"s","type":"nominal","scale":{"domain":["a","b","c","d"],"range":[[1,0],[1,2],[4,3],[7,3,2,3]]},"legend":null}}},
{"data":{"name":"B"},"mark":{"type":"point","filled":true,"stroke":"#000","strokeWidth":0.8,"opacity":1,"size":24},"encoding":{
"shape":{"field":"s","type":"nominal","scale":{"domain":["a","b","c","d"],"range":["circle","circle","triangle-down","triangle-up"]},"legend":null},
"fill":{"field":"s","type":"nominal","scale":{"domain":["a","b","c","d"],"range":["#000","#fff","#000","#fff"]},"legend":null}}},
{"data":{"name":"leg"},"mark":{"type":"point","filled":true,"strokeWidth":0.9,"size":144,"opacity":1},"encoding":{
"color":{"field":"k","type":"nominal","scale":{"domain":["a","b","c","d"],"range":["#000","#fff","#000","#fff"]},"legend":{"orient":"none","legendX":166,"legendY":109,"title":null,"symbolSize":144,"symbolStrokeWidth":0.9,"labelFontSize":12,"labelOffset":24,"rowPadding":4,"labelExpr":"'SC22+N36'"}},
"shape":{"field":"k","type":"nominal","scale":{"domain":["a","b","c","d"],"range":["M-3.33,0H3.33M0.45,0A0.45,0.45,0,1,1,-0.45,0A0.45,0.45,0,1,1,0.45,0Z","M-3.33,0H-3.23M-2.83,0H-2.73M-2.33,0H-2.23M-1.83,0H-1.73M-1.33,0H-1.23M-0.83,0H-0.73M0.73,0H0.83M1.23,0H1.33M1.73,0H1.83M2.23,0H2.33M2.73,0H2.83M3.23,0H3.33M0.45,0A0.45,0.45,0,1,1,-0.45,0A0.45,0.45,0,1,1,0.45,0Z","M-3.33,0H-2.67M-2.22,0H-1.55M-1.1,0H-0.6M0.6,0H1.1M1.55,0H2.22M2.67,0H3.33M-0.55,-0.4L0.55,-0.4L0,0.5Z","M-3.33,0H-2.33M-2,0H-1.85M-1.5,0H-0.7M0.7,0H1.5M1.85,0H2M2.33,0H3.33M-0.55,0.4L0.55,0.4L0,-0.5Z"]},"legend":{"orient":"none","legendX":166,"legendY":109,"title":null,"symbolSize":144,"symbolStrokeWidth":0.9,"labelFontSize":12,"labelOffset":24,"rowPadding":4,"labelExpr":"'SC22+N36'"}},
"stroke":{"field":"k","type":"nominal","scale":{"domain":["a","b","c","d"],"range":["#000","#000","#000","#777"]},"legend":{"orient":"none","legendX":166,"legendY":109,"title":null,"symbolSize":144,"symbolStrokeWidth":0.9,"labelFontSize":12,"labelOffset":24,"rowPadding":4,"labelExpr":"'SC22+N36'"}}}},
{"data":{"name":"subs"},"mark":{"type":"point","opacity":0},"encoding":{
"color":{"field":"sub","type":"nominal","scale":{"domain":[" ","E49K","L57R","E49K/L57R"],"range":["#000","#000","#000","#000"]},"legend":{"orient":"none","legendX":248,"legendY":113,"title":null,"symbolSize":144,"symbolOpacity":0,"labelFontSize":8,"labelOffset":0,"rowPadding":4}}}}
]},
{"width":268,"height":193,"title":{"text":"C","dx":-46,"offset":9},
"resolve":{"scale":{"color":"independent","shape":"independent","fill":"independent","stroke":"independent","strokeDash":"independent"}},
"encoding":{
"x":{"field":"x","type":"quantitative","scale":{"domain":[180,280],"nice":false,"zero":false},"axis":{"values":[180,200,220,240,260,280],"title":"Wavelength (nm)","labelOverlap":false}},
"y":{"field":"y","type":"quantitative","scale":{"domain":[-40,20],"nice":false},"axis":{"values":[-40,-30,-20,-10,0,10,20],"title":"[θ](10³ deg cm² dmol⁻¹)","labelOverlap":false}}},
"layer":[
{"data":{"name":"C"},"mark":{"type":"line","strokeWidth":1},"encoding":{
"stroke":{"field":"s","type":"nominal","scale":{"domain":["a","b","c","d"],"range":["#000","#c8c8c8","#000","#808080"]},"legend":null},
"strokeDash":{"field":"s","type":"nominal","scale":{"domain":["a","b","c","d"],"range":[[1,0],[1,2],[4,3],[7,3,2,3]]},"legend":null}}},
{"data":{"name":"C"},"mark":{"type":"point","filled":true,"stroke":"#000","strokeWidth":0.8,"opacity":1,"size":24},"encoding":{
"shape":{"field":"s","type":"nominal","scale":{"domain":["a","b","c","d"],"range":["circle","circle","triangle-down","triangle-up"]},"legend":null},
"fill":{"field":"s","type":"nominal","scale":{"domain":["a","b","c","d"],"range":["#000","#fff","#000","#fff"]},"legend":null}}},
{"data":{"name":"leg"},"mark":{"type":"point","filled":true,"strokeWidth":0.9,"size":144,"opacity":1},"encoding":{
"color":{"field":"k","type":"nominal","scale":{"domain":["a","b","c","d"],"range":["#000","#fff","#000","#fff"]},"legend":{"orient":"none","legendX":157,"legendY":117,"title":null,"symbolSize":144,"symbolStrokeWidth":0.9,"labelFontSize":12,"labelOffset":24,"rowPadding":2.5,"labelExpr":"'MTSC22+N36'"}},
"shape":{"field":"k","type":"nominal","scale":{"domain":["a","b","c","d"],"range":["M-3.33,0H3.33M0.45,0A0.45,0.45,0,1,1,-0.45,0A0.45,0.45,0,1,1,0.45,0Z","M-3.33,0H-3.23M-2.83,0H-2.73M-2.33,0H-2.23M-1.83,0H-1.73M-1.33,0H-1.23M-0.83,0H-0.73M0.73,0H0.83M1.23,0H1.33M1.73,0H1.83M2.23,0H2.33M2.73,0H2.83M3.23,0H3.33M0.45,0A0.45,0.45,0,1,1,-0.45,0A0.45,0.45,0,1,1,0.45,0Z","M-3.33,0H-2.67M-2.22,0H-1.55M-1.1,0H-0.6M0.6,0H1.1M1.55,0H2.22M2.67,0H3.33M-0.55,-0.4L0.55,-0.4L0,0.5Z","M-3.33,0H-2.33M-2,0H-1.85M-1.5,0H-0.7M0.7,0H1.5M1.85,0H2M2.33,0H3.33M-0.55,0.4L0.55,0.4L0,-0.5Z"]},"legend":{"orient":"none","legendX":157,"legendY":117,"title":null,"symbolSize":144,"symbolStrokeWidth":0.9,"labelFontSize":12,"labelOffset":24,"rowPadding":2.5,"labelExpr":"'MTSC22+N36'"}},
"stroke":{"field":"k","type":"nominal","scale":{"domain":["a","b","c","d"],"range":["#000","#000","#000","#777"]},"legend":{"orient":"none","legendX":157,"legendY":117,"title":null,"symbolSize":144,"symbolStrokeWidth":0.9,"labelFontSize":12,"labelOffset":24,"rowPadding":2.5,"labelExpr":"'MTSC22+N36'"}}}},
{"data":{"name":"subsC"},"mark":{"type":"point","opacity":0},"encoding":{
"color":{"field":"sub","type":"nominal","scale":{"domain":[" ","E49K","L57R","E49K/L5"],"range":["#000","#000","#000","#000"]},"legend":{"orient":"none","legendX":258,"legendY":121,"title":null,"symbolSize":144,"symbolOpacity":0,"labelFontSize":8,"labelOffset":0,"rowPadding":2.5}}}}
]},
{"width":266,"height":193,"title":{"text":"D","dx":-43,"offset":7},
"resolve":{"scale":{"color":"independent","shape":"independent","fill":"independent","stroke":"independent","strokeDash":"independent"}},
"encoding":{
"x":{"field":"x","type":"quantitative","scale":{"domain":[0,120],"nice":false},"axis":{"values":[0,20,40,60,80,100,120],"title":"Temperature (°C)","labelOverlap":false}},
"y":{"field":"y","type":"quantitative","scale":{"domain":[-35,0],"nice":false},"axis":{"values":[-35,-30,-25,-20,-15,-10,-5,0],"title":"[θ](10³ deg cm² dmol⁻¹)","labelOverlap":false}}},
"layer":[
{"data":{"name":"D"},"mark":{"type":"line","strokeWidth":1},"encoding":{
"stroke":{"field":"s","type":"nominal","scale":{"domain":["a","b","c","d"],"range":["#000","#c8c8c8","#000","#808080"]},"legend":null},
"strokeDash":{"field":"s","type":"nominal","scale":{"domain":["a","b","c","d"],"range":[[1,0],[1,2],[4,3],[7,3,2,3]]},"legend":null}}},
{"data":{"name":"D"},"mark":{"type":"point","filled":true,"stroke":"#000","strokeWidth":0.8,"opacity":1,"size":24},"encoding":{
"shape":{"field":"s","type":"nominal","scale":{"domain":["a","b","c","d"],"range":["circle","circle","triangle-down","triangle-up"]},"legend":null},
"fill":{"field":"s","type":"nominal","scale":{"domain":["a","b","c","d"],"range":["#000","#fff","#000","#fff"]},"legend":null}}},
{"data":{"name":"leg"},"mark":{"type":"point","filled":true,"strokeWidth":0.9,"size":144,"opacity":1},"encoding":{
"color":{"field":"k","type":"nominal","scale":{"domain":["a","b","c","d"],"range":["#000","#fff","#000","#fff"]},"legend":{"orient":"none","legendX":173,"legendY":117,"title":null,"symbolSize":144,"symbolStrokeWidth":0.9,"labelFontSize":12,"labelOffset":24,"rowPadding":2.5,"labelExpr":"'MTSC22+N36'"}},
"shape":{"field":"k","type":"nominal","scale":{"domain":["a","b","c","d"],"range":["M-3.33,0H3.33M0.45,0A0.45,0.45,0,1,1,-0.45,0A0.45,0.45,0,1,1,0.45,0Z","M-3.33,0H-3.23M-2.83,0H-2.73M-2.33,0H-2.23M-1.83,0H-1.73M-1.33,0H-1.23M-0.83,0H-0.73M0.73,0H0.83M1.23,0H1.33M1.73,0H1.83M2.23,0H2.33M2.73,0H2.83M3.23,0H3.33M0.45,0A0.45,0.45,0,1,1,-0.45,0A0.45,0.45,0,1,1,0.45,0Z","M-3.33,0H-2.67M-2.22,0H-1.55M-1.1,0H-0.6M0.6,0H1.1M1.55,0H2.22M2.67,0H3.33M-0.55,-0.4L0.55,-0.4L0,0.5Z","M-3.33,0H-2.33M-2,0H-1.85M-1.5,0H-0.7M0.7,0H1.5M1.85,0H2M2.33,0H3.33M-0.55,0.4L0.55,0.4L0,-0.5Z"]},"legend":{"orient":"none","legendX":173,"legendY":117,"title":null,"symbolSize":144,"symbolStrokeWidth":0.9,"labelFontSize":12,"labelOffset":24,"rowPadding":2.5,"labelExpr":"'MTSC22+N36'"}},
"stroke":{"field":"k","type":"nominal","scale":{"domain":["a","b","c","d"],"range":["#000","#000","#000","#777"]},"legend":{"orient":"none","legendX":173,"legendY":117,"title":null,"symbolSize":144,"symbolStrokeWidth":0.9,"labelFontSize":12,"labelOffset":24,"rowPadding":2.5,"labelExpr":"'MTSC22+N36'"}}}},
{"data":{"name":"subs"},"mark":{"type":"point","opacity":0},"encoding":{
"color":{"field":"sub","type":"nominal","scale":{"domain":[" ","E49K","L57R","E49K/L57R"],"range":["#000","#000","#000","#000"]},"legend":{"orient":"none","legendX":273,"legendY":121,"title":null,"symbolSize":144,"symbolOpacity":0,"labelFontSize":7,"labelOffset":0,"rowPadding":2.5}}}}
]},
{"width":267,"height":193,"title":{"text":"E","dx":-45,"offset":15},
"resolve":{"scale":{"color":"independent","shape":"independent","fill":"independent","stroke":"independent","strokeDash":"independent"}},
"encoding":{
"x":{"field":"x","type":"quantitative","scale":{"domain":[180,280],"nice":false,"zero":false},"axis":{"values":[180,200,220,240,260,280],"title":"Wavelength (nm)","labelOverlap":false}},
"y":{"field":"y","type":"quantitative","scale":{"domain":[-40,20],"nice":false},"axis":{"values":[-40,-30,-20,-10,0,10,20],"title":"[θ](10³ deg cm² dmol⁻¹)","labelOverlap":false}}},
"layer":[
{"data":{"name":"E"},"mark":{"type":"line","strokeWidth":1},"encoding":{
"stroke":{"field":"s","type":"nominal","scale":{"domain":["a","b","c","d"],"range":["#000","#c8c8c8","#000","#808080"]},"legend":null},
"strokeDash":{"field":"s","type":"nominal","scale":{"domain":["a","b","c","d"],"range":[[1,0],[1,2],[4,3],[7,3,2,3]]},"legend":null}}},
{"data":{"name":"E"},"mark":{"type":"point","filled":true,"stroke":"#000","strokeWidth":0.8,"opacity":1,"size":24},"encoding":{
"shape":{"field":"s","type":"nominal","scale":{"domain":["a","b","c","d"],"range":["circle","circle","triangle-down","triangle-up"]},"legend":null},
"fill":{"field":"s","type":"nominal","scale":{"domain":["a","b","c","d"],"range":["#000","#fff","#000","#fff"]},"legend":null}}},
{"data":{"name":"leg"},"mark":{"type":"point","filled":true,"strokeWidth":0.9,"size":144,"opacity":1},"encoding":{
"color":{"field":"k","type":"nominal","scale":{"domain":["a","b","c","d"],"range":["#000","#fff","#000","#fff"]},"legend":{"orient":"none","legendX":155,"legendY":116,"title":null,"symbolSize":144,"symbolStrokeWidth":0.9,"labelFontSize":12,"labelOffset":24,"rowPadding":3,"labelExpr":"'HP23+N36'"}},
"shape":{"field":"k","type":"nominal","scale":{"domain":["a","b","c","d"],"range":["M-3.33,0H3.33M0.45,0A0.45,0.45,0,1,1,-0.45,0A0.45,0.45,0,1,1,0.45,0Z","M-3.33,0H-3.23M-2.83,0H-2.73M-2.33,0H-2.23M-1.83,0H-1.73M-1.33,0H-1.23M-0.83,0H-0.73M0.73,0H0.83M1.23,0H1.33M1.73,0H1.83M2.23,0H2.33M2.73,0H2.83M3.23,0H3.33M0.45,0A0.45,0.45,0,1,1,-0.45,0A0.45,0.45,0,1,1,0.45,0Z","M-3.33,0H-2.67M-2.22,0H-1.55M-1.1,0H-0.6M0.6,0H1.1M1.55,0H2.22M2.67,0H3.33M-0.55,-0.4L0.55,-0.4L0,0.5Z","M-3.33,0H-2.33M-2,0H-1.85M-1.5,0H-0.7M0.7,0H1.5M1.85,0H2M2.33,0H3.33M-0.55,0.4L0.55,0.4L0,-0.5Z"]},"legend":{"orient":"none","legendX":155,"legendY":116,"title":null,"symbolSize":144,"symbolStrokeWidth":0.9,"labelFontSize":12,"labelOffset":24,"rowPadding":3,"labelExpr":"'HP23+N36'"}},
"stroke":{"field":"k","type":"nominal","scale":{"domain":["a","b","c","d"],"range":["#000","#000","#000","#777"]},"legend":{"orient":"none","legendX":155,"legendY":116,"title":null,"symbolSize":144,"symbolStrokeWidth":0.9,"labelFontSize":12,"labelOffset":24,"rowPadding":3,"labelExpr":"'HP23+N36'"}}}},
{"data":{"name":"subs"},"mark":{"type":"point","opacity":0},"encoding":{
"color":{"field":"sub","type":"nominal","scale":{"domain":[" ","E49K","L57R","E49K/L57R"],"range":["#000","#000","#000","#000"]},"legend":{"orient":"none","legendX":238,"legendY":120,"title":null,"symbolSize":144,"symbolOpacity":0,"labelFontSize":8,"labelOffset":0,"rowPadding":3}}}}
]},
{"width":267,"height":193,"title":{"text":"F","dx":-45,"offset":15},
"resolve":{"scale":{"color":"independent","shape":"independent","fill":"independent","stroke":"independent","strokeDash":"independent"}},
"encoding":{
"x":{"field":"x","type":"quantitative","scale":{"domain":[0,120],"nice":false},"axis":{"values":[0,20,40,60,80,100,120],"title":"Temperature (°C)","labelOverlap":false}},
"y":{"field":"y","type":"quantitative","scale":{"domain":[-35,0],"nice":false},"axis":{"values":[-35,-30,-25,-20,-15,-10,-5,0],"title":"[θ](10³ deg cm² dmol⁻¹)","labelOverlap":false}}},
"layer":[
{"data":{"name":"F"},"mark":{"type":"line","strokeWidth":1},"encoding":{
"stroke":{"field":"s","type":"nominal","scale":{"domain":["a","b","c","d"],"range":["#000","#c8c8c8","#000","#808080"]},"legend":null},
"strokeDash":{"field":"s","type":"nominal","scale":{"domain":["a","b","c","d"],"range":[[1,0],[1,2],[4,3],[7,3,2,3]]},"legend":null}}},
{"data":{"name":"F"},"mark":{"type":"point","filled":true,"stroke":"#000","strokeWidth":0.8,"opacity":1,"size":24},"encoding":{
"shape":{"field":"s","type":"nominal","scale":{"domain":["a","b","c","d"],"range":["circle","circle","triangle-down","triangle-up"]},"legend":null},
"fill":{"field":"s","type":"nominal","scale":{"domain":["a","b","c","d"],"range":["#000","#fff","#000","#fff"]},"legend":null}}},
{"data":{"name":"leg"},"mark":{"type":"point","filled":true,"strokeWidth":0.9,"size":144,"opacity":1},"encoding":{
"color":{"field":"k","type":"nominal","scale":{"domain":["a","b","c","d"],"range":["#000","#fff","#000","#fff"]},"legend":{"orient":"none","legendX":185.5,"legendY":116,"title":null,"symbolSize":144,"symbolStrokeWidth":0.9,"labelFontSize":12,"labelOffset":24,"rowPadding":3,"labelExpr":"'HP23+N36'"}},
"shape":{"field":"k","type":"nominal","scale":{"domain":["a","b","c","d"],"range":["M-3.33,0H3.33M0.45,0A0.45,0.45,0,1,1,-0.45,0A0.45,0.45,0,1,1,0.45,0Z","M-3.33,0H-3.23M-2.83,0H-2.73M-2.33,0H-2.23M-1.83,0H-1.73M-1.33,0H-1.23M-0.83,0H-0.73M0.73,0H0.83M1.23,0H1.33M1.73,0H1.83M2.23,0H2.33M2.73,0H2.83M3.23,0H3.33M0.45,0A0.45,0.45,0,1,1,-0.45,0A0.45,0.45,0,1,1,0.45,0Z","M-3.33,0H-2.67M-2.22,0H-1.55M-1.1,0H-0.6M0.6,0H1.1M1.55,0H2.22M2.67,0H3.33M-0.55,-0.4L0.55,-0.4L0,0.5Z","M-3.33,0H-2.33M-2,0H-1.85M-1.5,0H-0.7M0.7,0H1.5M1.85,0H2M2.33,0H3.33M-0.55,0.4L0.55,0.4L0,-0.5Z"]},"legend":{"orient":"none","legendX":185.5,"legendY":116,"title":null,"symbolSize":144,"symbolStrokeWidth":0.9,"labelFontSize":12,"labelOffset":24,"rowPadding":3,"labelExpr":"'HP23+N36'"}},
"stroke":{"field":"k","type":"nominal","scale":{"domain":["a","b","c","d"],"range":["#000","#000","#000","#777"]},"legend":{"orient":"none","legendX":185.5,"legendY":116,"title":null,"symbolSize":144,"symbolStrokeWidth":0.9,"labelFontSize":12,"labelOffset":24,"rowPadding":3,"labelExpr":"'HP23+N36'"}}}},
{"data":{"name":"subs"},"mark":{"type":"point","opacity":0},"encoding":{
"color":{"field":"sub","type":"nominal","scale":{"domain":[" ","E49K","L57R","E49K/L57R"],"range":["#000","#000","#000","#000"]},"legend":{"orient":"none","legendX":267,"legendY":120,"title":null,"symbolSize":144,"symbolOpacity":0,"labelFontSize":8,"labelOffset":0,"rowPadding":3}}}}
]}
]
}
